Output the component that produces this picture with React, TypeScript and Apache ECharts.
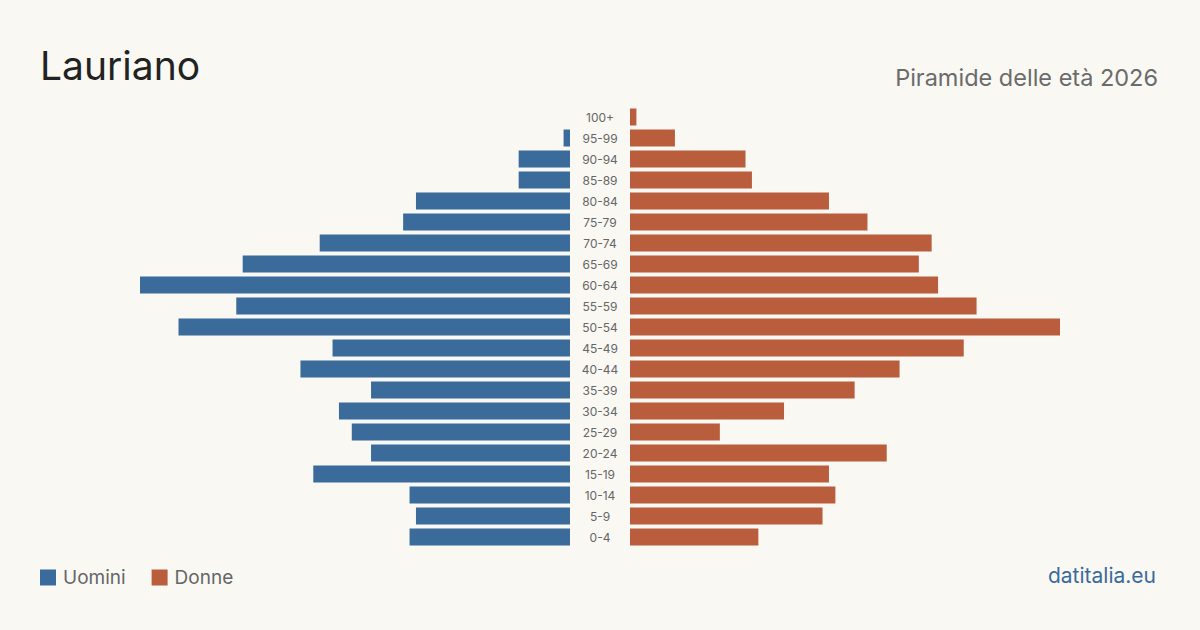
import React, { useEffect, useRef } from "react";
import * as echarts from "echarts";

const categories = ["0-4", "5-9", "10-14", "15-19", "20-24", "25-29", "30-34", "35-39", "40-44", "45-49", "50-54", "55-59", "60-64", "65-69", "70-74", "75-79", "80-84", "85-89", "90-94", "95-99", "100+"];
const uomini = [25, 24, 25, 40, 31, 34, 36, 31, 42, 37, 61, 52, 67, 51, 39, 26, 24, 8, 8, 1, 0];
const donne = [20, 30, 32, 31, 40, 14, 24, 35, 42, 52, 67, 54, 48, 45, 47, 37, 31, 19, 18, 7, 1];
const maxValue = 67;

const BLUE = "#3b6b9a";
const ORANGE = "#b95d3c";
const FONT = "Inter, 'Noto Sans', sans-serif";

export default function App() {
  const ref = useRef<HTMLDivElement>(null);
  useEffect(() => {
    const chart = echarts.init(ref.current!, null, { renderer: "svg" });
    chart.setOption({
      animation: false,
      backgroundColor: "#f9f8f3",
      textStyle: { fontFamily: FONT },
      grid: [
        { left: 140, width: 430, top: 106.5, height: 441 },
        { left: 630, width: 430, top: 106.5, height: 441 },
      ],
      xAxis: [
        { type: "value", gridIndex: 0, inverse: true, min: 0, max: maxValue, show: false },
        { type: "value", gridIndex: 1, min: 0, max: maxValue, show: false },
      ],
      yAxis: [
        { type: "category", gridIndex: 0, data: categories, show: false },
        {
          type: "category",
          gridIndex: 1,
          data: categories,
          axisLine: { show: false },
          axisTick: { show: false },
          axisLabel: { margin: 30, align: "center", color: "#666", fontSize: 12, fontFamily: FONT },
        },
      ],
      legend: {
        left: 35,
        top: 563,
        itemWidth: 16,
        itemHeight: 16,
        itemGap: 26,
        icon: "rect",
        textStyle: { color: "#666", fontSize: 19, fontFamily: FONT, padding: [0, 0, 0, 2] },
        data: ["Uomini", "Donne"],
      },
      graphic: [
        { type: "text", left: 40, top: 46, style: { text: "Lauriano", font: `39px ${FONT}`, fill: "#222" } },
        { type: "text", right: 42, top: 65, style: { text: "Piramide delle età 2026", font: `23.5px ${FONT}`, fill: "#6b6b6b" } },
        { type: "text", right: 44, top: 565, style: { text: "datitalia.eu", font: `21px ${FONT}`, fill: BLUE } },
      ],
      series: [
        { name: "Uomini", type: "bar", xAxisIndex: 0, yAxisIndex: 0, data: uomini, barWidth: 17, itemStyle: { color: BLUE } },
        { name: "Donne", type: "bar", xAxisIndex: 1, yAxisIndex: 1, data: donne, barWidth: 17, itemStyle: { color: ORANGE } },
      ],
    });
    return () => chart.dispose();
  }, []);
  return <div ref={ref} style={{ width: 1200, height: 630, position: "absolute", left: 0, top: 0 }} />;
}
